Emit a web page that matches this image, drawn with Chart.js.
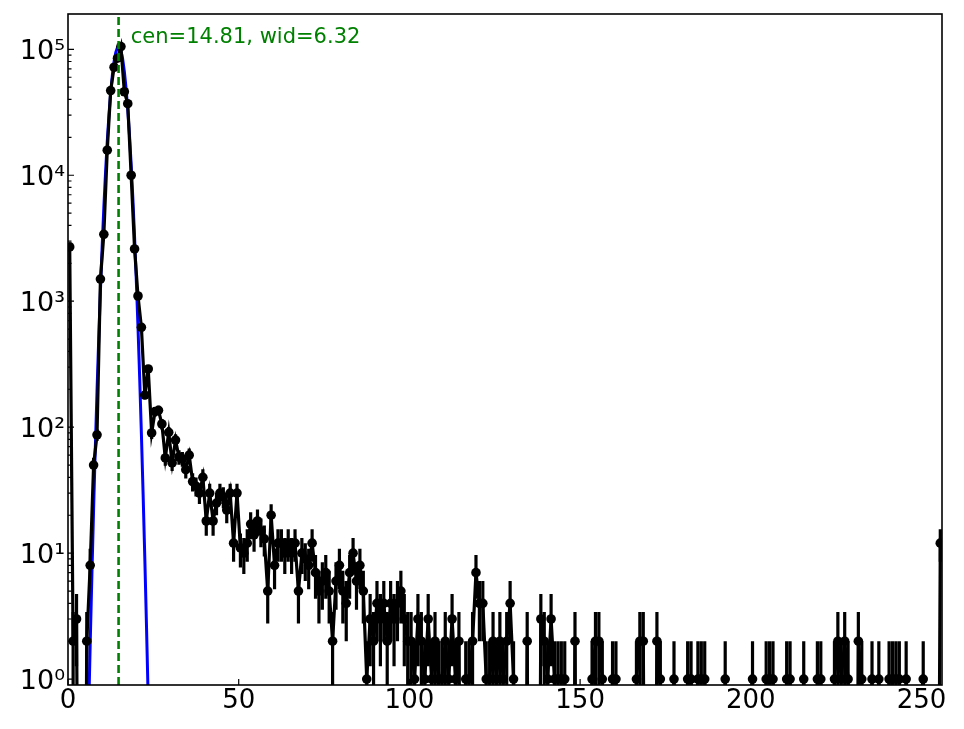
<!DOCTYPE html>
<html>
<head>
<meta charset="utf-8">
<script src="https://cdn.jsdelivr.net/npm/chart.js@4.4.1/dist/chart.umd.min.js"></script>
<style>
  html, body { margin: 0; padding: 0; background: #fff; }
  #wrap { width: 964px; height: 729px; }
</style>
</head>
<body>
<div id="wrap"><canvas id="hist"></canvas></div>
<script>
// counts per bin (bin i is drawn at i + 0.5)
const counts = [
  2700, 2, 3, 0, 0, 2, 8, 50, 87, 1500,
  3400, 15800, 47000, 72000, 85000, 105000, 46000, 37000, 10000, 2600,
  1100, 620, 180, 290, 90, 133, 136, 106, 57, 91,
  52, 79, 58, 56, 46, 60, 37, 34, 30, 40,
  18, 30, 18, 25, 30, 28, 22, 30, 12, 30,
  11, 10, 12, 17, 14, 18, 15, 13, 5, 20,
  8, 12, 12, 10, 12, 10, 12, 5, 10, 9,
  8, 12, 7, 5, 6, 7, 5, 2, 6, 8,
  5, 4, 7, 10, 6, 8, 5, 1, 3, 2,
  4, 3, 4, 2, 4, 3, 4, 5, 3, 2,
  2, 1, 3, 2, 1, 3, 1, 2, 1, 1,
  2, 1, 3, 1, 2, 0, 1, 1, 2, 7,
  4, 4, 1, 1, 2, 1, 2, 1, 2, 4,
  1, 0, 0, 0, 2, 0, 0, 0, 3, 2,
  1, 3, 1, 1, 1, 1, 0, 0, 2, 0,
  0, 0, 0, 1, 2, 2, 1, 0, 0, 1,
  1, 0, 0, 0, 0, 0, 1, 2, 2, 0,
  0, 0, 2, 1, 0, 0, 0, 1, 0, 0,
  0, 1, 1, 0, 1, 1, 1, 0, 0, 0,
  0, 0, 1, 0, 0, 0, 0, 0, 0, 0,
  1, 0, 0, 0, 1, 1, 1, 0, 0, 0,
  1, 1, 0, 0, 0, 1, 0, 0, 0, 1,
  1, 0, 0, 0, 1, 2, 1, 2, 1, 0,
  0, 2, 1, 0, 0, 1, 0, 1, 0, 0,
  1, 1, 1, 1, 0, 1, 0, 0, 0, 0,
  1, 0, 0, 0, 0, 12
];
const binOffset = 0.5;

// fitted curve
const fitX = [5.5, 6, 6.5, 7, 7.5, 8, 8.5, 9, 9.5, 10, 10.5, 11, 11.5, 12, 12.5, 13, 13.5, 14, 14.5, 14.81,
              15, 15.5, 16, 16.5, 17, 17.5, 18, 18.5, 19, 19.5, 20, 20.5, 21, 21.5, 22, 22.5, 23, 23.5, 24];
const fitY = [0.116, 0.487, 1.89, 6.75, 22.4, 68.3, 193, 503, 1212, 2700, 5557, 10560, 18540, 30100, 45140, 62530, 80030, 94650, 103400, 105000,
              104400, 97380, 83930, 66820, 49160, 33410, 20990, 12170, 6530, 3231, 1480, 626, 244, 88, 29.4, 9.06, 2.58, 0.68, 0.165];
const fitCen = 14.81;
const fitWid = 6.32;

const xTicks = [0, 50, 100, 150, 200, 250];
const yDecades = [0, 1, 2, 3, 4, 5];

const X_MIN = 0, X_MAX = 256;
const Y_MIN = 0.898, Y_MAX = 1.906e5;
const CLIP_FLOOR = 1e-4;   // non-positive counts are clipped far below the axis, like a log axis does
const SUP = ['\u2070', '\u00b9', '\u00b2', '\u00b3', '\u2074', '\u2075'];

const dataPts = counts.map((c, i) => ({ x: i + binOffset, y: c > 0 ? c : CLIP_FLOOR }));
const fitPts = fitX.map((v, i) => ({ x: v, y: fitY[i] }));

const errorBars = {
  id: 'errorBars',
  beforeDatasetsDraw(chart) {
    const { ctx, chartArea: a, scales: { x, y } } = chart;
    ctx.save();
    ctx.beginPath();
    ctx.rect(a.left, a.top, a.width, a.height);
    ctx.clip();
    ctx.strokeStyle = '#000';
    ctx.lineWidth = 3.2;
    ctx.beginPath();
    counts.forEach((c, i) => {
      if (c <= 0) return;
      const px = x.getPixelForValue(i + binOffset);
      const err = Math.sqrt(c);
      const lo = c - err;
      const pyLo = lo > 0 ? y.getPixelForValue(lo) : a.bottom + 10;
      ctx.moveTo(px, pyLo);
      ctx.lineTo(px, y.getPixelForValue(c + err));
    });
    ctx.stroke();
    ctx.restore();
  }
};

const fitMarks = {
  id: 'fitMarks',
  afterDatasetsDraw(chart) {
    const { ctx, chartArea: a, scales: { x, y } } = chart;
    const px = x.getPixelForValue(fitCen);
    ctx.save();
    ctx.strokeStyle = '#008000';
    ctx.lineWidth = 2.6;
    ctx.setLineDash([8, 4]);
    ctx.beginPath();
    ctx.moveTo(px, a.bottom);
    ctx.lineTo(px, a.top);
    ctx.stroke();
    ctx.setLineDash([]);
    ctx.fillStyle = '#008000';
    ctx.font = '21px "DejaVu Sans"';
    ctx.textBaseline = 'alphabetic';
    ctx.textAlign = 'left';
    ctx.fillText('cen=' + fitCen.toFixed(2) + ', wid=' + fitWid.toFixed(2),
                 x.getPixelForValue(18.4), y.getPixelForValue(1.12e5));
    ctx.restore();
  }
};

const frame = {
  id: 'frame',
  afterDraw(chart) {
    const { ctx, chartArea: a, scales: { x, y } } = chart;
    ctx.save();
    ctx.strokeStyle = '#000';
    ctx.lineWidth = 1.2;
    ctx.beginPath();
    xTicks.forEach(v => {
      const px = x.getPixelForValue(v);
      ctx.moveTo(px, a.bottom);
      ctx.lineTo(px, a.bottom - 6);
    });
    for (let d = -1; d <= 5; d++) {
      for (let m = 1; m <= 9; m++) {
        const v = m * Math.pow(10, d);
        if (v < Y_MIN * 1.01 || v > Y_MAX) continue;
        const py = y.getPixelForValue(v);
        ctx.moveTo(a.left, py);
        ctx.lineTo(a.left + (m === 1 ? 6 : 3.5), py);
      }
    }
    ctx.stroke();
    ctx.lineWidth = 1.6;
    ctx.strokeRect(a.left, a.top, a.width, a.height);
    ctx.restore();
  }
};

new Chart(document.getElementById('hist'), {
  type: 'line',
  data: {
    datasets: [
      {
        data: dataPts,
        borderColor: '#000',
        borderWidth: 3.2,
        pointRadius: ctx => (ctx.raw && ctx.raw.y > CLIP_FLOOR ? 4.8 : 0),
        pointBackgroundColor: '#000',
        pointBorderWidth: 0,
        tension: 0
      },
      {
        data: fitPts,
        borderColor: '#0000ff',
        borderWidth: 3,
        pointRadius: 0,
        tension: 0
      }
    ]
  },
  options: {
    responsive: true,
    maintainAspectRatio: false,
    devicePixelRatio: 1,
    animation: false,
    layout: { padding: { top: 14, right: 22, left: 0, bottom: 0 } },
    plugins: { legend: { display: false }, tooltip: { enabled: false } },
    scales: {
      x: {
        type: 'linear',
        min: X_MIN,
        max: X_MAX,
        grid: { display: false, drawTicks: false },
        border: { display: false },
        afterBuildTicks: s => { s.ticks = xTicks.map(v => ({ value: v })); },
        afterFit: s => { s.height = 44; s.paddingLeft = 0; s.paddingRight = 0; },
        ticks: {
          autoSkip: false,
          maxRotation: 0,
          padding: 1,
          color: '#000',
          font: { family: 'DejaVu Sans', size: 26 },
          callback: v => String(v)
        }
      },
      y: {
        type: 'logarithmic',
        min: Y_MIN,
        max: Y_MAX,
        grid: { display: false, drawTicks: false },
        border: { display: false },
        afterBuildTicks: s => { s.ticks = yDecades.map(d => ({ value: Math.pow(10, d) })); },
        afterFit: s => { s.width = 68; s.paddingTop = 0; s.paddingBottom = 0; },
        ticks: {
          autoSkip: false,
          padding: 3,
          labelOffset: 3,
          color: '#000',
          font: { family: 'DejaVu Sans', size: 27 },
          callback: v => '10' + SUP[Math.round(Math.log10(v))]
        }
      }
    }
  },
  plugins: [errorBars, fitMarks, frame]
});
</script>
</body>
</html>
